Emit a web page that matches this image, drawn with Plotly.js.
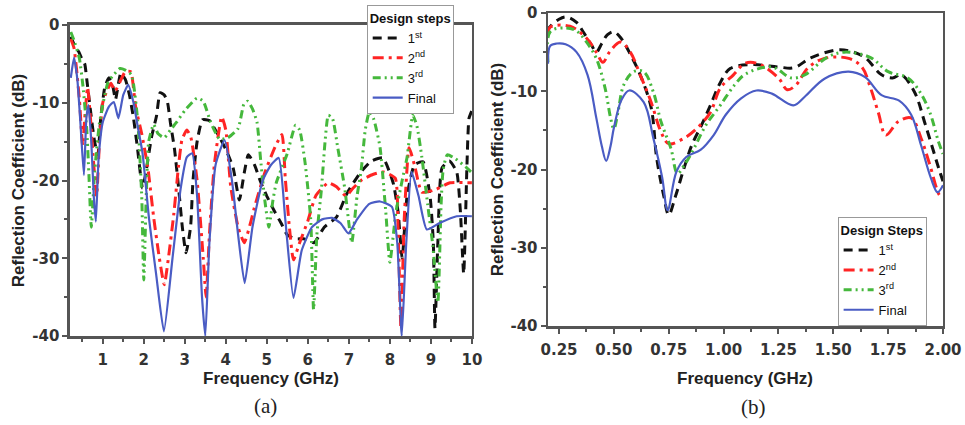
<!DOCTYPE html>
<html>
<head>
<meta charset="utf-8">
<script src="https://cdn.plot.ly/plotly-3.0.1.min.js"></script>
<style>
html,body{margin:0;padding:0;background:#fff;}
#chart{width:965px;height:425px;}
</style>
</head>
<body>
<div id="chart"></div>
<script>
// ---------- Panel (a): 0.2 - 10 GHz ----------
const a1stF = [0.22,0.3,0.42,0.5,0.56,0.61,0.7,0.8,0.88,0.95,1.05,1.15,1.25,1.31,1.44,1.55,1.65,1.75,1.85,1.97,2.05,2.19,2.31,2.4,2.5,2.58,2.65,2.75,2.85,2.94,3.03,3.14,3.2,3.3,3.43,3.6,3.8,4.0,4.18,4.33,4.45,4.55,4.7,4.85,5.0,5.17,5.35,5.5,5.7,5.9,6.15,6.4,6.7,6.96,7.28,7.55,7.83,8.08,8.2,8.3,8.42,8.6,8.81,8.98,9.06,9.1,9.17,9.27,9.45,9.63,9.72,9.8,9.88,9.93,10];
const a1stDB = [-1.5,-2.5,-3.5,-4.5,-5,-7,-11,-15,-16.7,-12,-8,-6.8,-8,-9.6,-6.2,-7,-9,-12,-16,-21,-19,-14.4,-11.7,-8.7,-9,-10,-12.6,-16,-21,-26,-29.3,-26,-20,-15,-12.2,-12.3,-14,-16,-18.4,-22.5,-19,-16.7,-18,-20.2,-22,-23.8,-25.5,-27,-27.5,-27.5,-28,-26,-24.7,-21.6,-19,-17.5,-17.1,-20.3,-24,-30,-22,-18,-17.6,-22,-28,-39,-28,-18.4,-17.5,-18.9,-24,-32,-18,-12,-11];

const a2ndF = [0.22,0.3,0.43,0.51,0.56,0.63,0.7,0.78,0.85,0.92,1.0,1.09,1.2,1.3,1.42,1.55,1.68,1.8,1.95,2.1,2.24,2.38,2.5,2.6,2.73,2.85,2.93,3.05,3.15,3.3,3.45,3.52,3.6,3.72,3.9,4.0,4.12,4.3,4.45,4.6,4.68,4.95,5.2,5.37,5.45,5.55,5.65,5.8,6.0,6.2,6.5,6.7,6.93,7.1,7.32,7.6,7.84,8.13,8.2,8.27,8.35,8.47,8.6,8.78,9.1,9.47,10];
const a2ndDB = [-1.8,-3,-9.6,-15.5,-12,-8,-12,-18,-22,-15,-10,-8.6,-7.5,-8.5,-7.3,-6,-6,-10.5,-14,-18.4,-24.7,-30,-33.4,-30,-24.4,-18,-14.8,-13.5,-14.5,-20,-30,-35,-27,-18,-11.8,-13.5,-20.8,-26,-28,-25.5,-23.8,-19,-15.7,-14.1,-19.7,-26,-30.2,-28,-25.2,-21.9,-20.3,-20.8,-22,-21,-19.9,-19.2,-18.9,-19.7,-26,-39,-25,-15.8,-18,-21.5,-21.2,-20.3,-20.3];

const a3rdF = [0.22,0.3,0.43,0.52,0.61,0.66,0.72,0.8,0.92,1.12,1.25,1.42,1.55,1.7,1.85,1.95,2.0,2.06,2.12,2.24,2.35,2.5,2.65,2.8,3.0,3.3,3.45,3.63,3.85,4.05,4.3,4.44,4.53,4.65,4.76,4.85,4.95,5.05,5.15,5.23,5.5,5.7,5.8,5.93,6.07,6.14,6.22,6.33,6.42,6.5,6.6,6.73,6.9,7.07,7.2,7.3,7.4,7.5,7.6,7.76,7.9,8.0,8.15,8.3,8.42,8.56,8.66,8.78,8.92,9.05,9.17,9.25,9.3,9.4,9.6,9.88,10];
const a3rdDB = [-0.9,-2,-4.3,-8,-13.5,-19,-26,-19,-12.6,-7.5,-6.5,-5.6,-5.8,-6.4,-12.2,-22,-32.8,-22,-15,-12.8,-14,-14.5,-13.5,-12.5,-11,-9.4,-9.8,-12.5,-14.7,-14.5,-13.3,-10.2,-9.8,-10.8,-12.5,-17.4,-22.5,-26,-22.5,-20.3,-16.5,-12.9,-13.5,-17.6,-25,-36.6,-27,-21.2,-15,-11.6,-12,-15.8,-21,-28,-22,-18.7,-13.5,-11.2,-12,-15.7,-24,-30.5,-24,-20,-17,-11.6,-13,-17,-23,-28.5,-35.7,-23,-18.6,-16.7,-17.2,-18.4,-19];

const aFinalF = [0.22,0.3,0.38,0.46,0.54,0.6,0.65,0.72,0.78,0.83,0.9,1.0,1.15,1.27,1.38,1.5,1.62,1.75,1.85,1.97,2.13,2.3,2.49,2.7,2.9,3.05,3.18,3.3,3.42,3.5,3.6,3.75,3.97,4.15,4.3,4.46,4.65,4.9,5.1,5.29,5.45,5.65,5.85,6.1,6.35,6.59,6.8,6.99,7.2,7.5,7.76,8.05,8.18,8.29,8.4,8.53,8.7,8.9,9.2,9.63,10];
const aFinalDB = [-6.8,-4.2,-7,-13,-19.3,-12,-10.3,-15,-22,-25.3,-17,-12.5,-10.5,-9.9,-12,-9,-7.7,-10,-13,-16.5,-25,-32,-39.4,-30,-21,-17,-16.5,-22,-35,-40,-28,-18,-14.8,-20,-27,-33.2,-26,-20,-18,-17.1,-25,-35.1,-29,-26,-25,-24.8,-25.5,-26.8,-25,-23,-22.7,-23.4,-28,-40,-28,-18.9,-22,-26.3,-25.5,-24.6,-24.6];

// ---------- Panel (b): 0.2 - 2 GHz ----------
const b1stF = [0.2,0.205,0.25,0.285,0.33,0.36,0.4,0.42,0.445,0.47,0.5,0.535,0.57,0.62,0.67,0.695,0.727,0.75,0.78,0.82,0.855,0.9,0.94,0.985,1.03,1.13,1.25,1.32,1.4,1.52,1.58,1.645,1.72,1.77,1.81,1.87,1.92,1.98,2.0];
const b1stDB = [-2.5,-1.9,-0.8,-0.5,-1.2,-2.4,-4.2,-5,-3.9,-2.8,-2.4,-3.3,-5,-7.9,-12.1,-18.5,-23.3,-25.8,-23.5,-19.8,-16.9,-14.3,-11.8,-8.9,-7.1,-6.6,-6.9,-7,-5.7,-4.7,-4.9,-5.7,-7.9,-8.3,-7.9,-10.1,-14.3,-19.8,-21.5];

const b2ndF = [0.2,0.21,0.3,0.375,0.42,0.45,0.48,0.53,0.575,0.62,0.67,0.715,0.75,0.82,0.88,0.94,0.985,1.045,1.1,1.16,1.25,1.29,1.33,1.385,1.46,1.57,1.63,1.67,1.705,1.74,1.795,1.855,1.9,1.94,1.985,2.0];
const b2ndDB = [-2.8,-1.8,-1.7,-3.2,-5,-6.3,-5,-3.7,-5,-7.9,-11.4,-15.2,-16.7,-16,-14.7,-12.7,-9.6,-7.9,-6.4,-6.5,-8.3,-9.8,-9.2,-7,-5.8,-5.8,-6.9,-9.6,-12.7,-15.6,-13.9,-13.4,-16,-19.4,-23.3,-23.5];

const b3rdF = [0.2,0.21,0.28,0.33,0.375,0.42,0.46,0.485,0.5,0.52,0.545,0.59,0.636,0.68,0.715,0.76,0.79,0.82,0.865,0.92,0.985,1.05,1.1,1.22,1.31,1.37,1.47,1.55,1.67,1.75,1.84,1.895,1.94,1.98,2.0];
const b3rdDB = [-6.3,-2.4,-1.9,-2.3,-3.7,-5.8,-9.6,-13.4,-14.8,-12.5,-9.2,-7.5,-7.5,-10.1,-13.9,-17.3,-20.5,-19.5,-17.3,-14.3,-11.8,-9.2,-7.8,-6.9,-8.3,-7.9,-5.7,-5,-5.7,-7.5,-8.3,-10.1,-12.7,-16.5,-18];

const bFinalF = [0.2,0.21,0.24,0.28,0.33,0.38,0.42,0.445,0.465,0.485,0.5,0.535,0.57,0.636,0.68,0.72,0.745,0.785,0.83,0.895,0.955,1.01,1.08,1.15,1.22,1.318,1.37,1.46,1.57,1.645,1.72,1.8,1.855,1.9,1.945,1.975,2.0];
const bFinalDB = [-6.5,-4.2,-3.9,-4,-5,-7.9,-13.4,-17,-18.9,-17,-14.7,-11.1,-9.9,-11.4,-16,-21,-25.2,-20.3,-18.4,-17.5,-15.6,-13,-10.9,-9.9,-10.3,-11.8,-10.7,-8.4,-7.5,-8.2,-10.5,-11.2,-13,-16.9,-21.1,-22.9,-22];

// ---------- Labels ----------
const seriesNames = ['1<sup>st</sup>','2<sup>nd</sup>','3<sup>rd</sup>','Final'];
const xTicksA = [1,2,3,4,5,6,7,8,9,10];
const xTickTextA = ['1','2','3','4','5','6','7','8','9','10'];
const xTicksB = [0.25,0.5,0.75,1.0,1.25,1.5,1.75,2.0];
const xTickTextB = ['0.25','0.50','0.75','1.00','1.25','1.50','1.75','2.00'];
const yTicks = [-40,-30,-20,-10,0];
const yTickText = ['-40','-30','-20','-10','0'];
const xTitle = 'Frequency (GHz)';
const yTitle = 'Reflection Coefficient (dB)';

const colors = ['#111111','#ff2424','#45b83c','#4a5cc4'];
const dashes = ['9px,6px','11px,5px,3px,5px','8px,4px,2px,4px,2px,4px','solid'];
const widths = [3,3,3,2.2];

const panelA = [[a1stF,a1stDB],[a2ndF,a2ndDB],[a3rdF,a3rdDB],[aFinalF,aFinalDB]];
const panelB = [[b1stF,b1stDB],[b2ndF,b2ndDB],[b3rdF,b3rdDB],[bFinalF,bFinalDB]];

const traces = [];
panelA.forEach((s,i)=>{
  traces.push({x:s[0],y:s[1],type:'scatter',mode:'lines',name:seriesNames[i],
    xaxis:'x',yaxis:'y',legend:'legend',
    line:{color:colors[i],width:widths[i],dash:dashes[i],shape:'spline',smoothing:0.5}});
});
panelB.forEach((s,i)=>{
  traces.push({x:s[0],y:s[1],type:'scatter',mode:'lines',name:seriesNames[i],
    xaxis:'x2',yaxis:'y2',legend:'legend2',
    line:{color:colors[i],width:widths[i],dash:dashes[i],shape:'spline',smoothing:1}});
});

const axCol = '#555';
const tickFont = {family:'DejaVu Sans', size:15, color:'#333', weight:'bold'};
const titleFont = {family:'Liberation Sans, Arial', size:17, color:'#222', weight:'bold'};
function xa(domain, range, tv, tt, minorD, anchor){
  return {domain:domain, range:range, anchor:anchor, tickmode:'array', tickvals:tv, ticktext:tt,
    ticks:'outside', ticklen:5, tickwidth:2, tickcolor:axCol, linecolor:axCol, linewidth:2.5,
    mirror:true, showgrid:false, zeroline:false, tickfont:tickFont, ticklabelstandoff:3,
    minor:{ticks:'outside', ticklen:3, tickwidth:2, tickcolor:axCol, dtick:minorD, tick0:0, showgrid:false}};
}
function ya(domain, anchor){
  return {domain:domain, range:[-40,0], anchor:anchor, tickmode:'array', tickvals:yTicks, ticktext:yTickText,
    ticks:'outside', ticklen:5, tickwidth:2, tickcolor:axCol, linecolor:axCol, linewidth:2.5,
    mirror:true, showgrid:false, zeroline:false, tickfont:tickFont,
    minor:{ticks:'outside', ticklen:3, tickwidth:2, tickcolor:axCol, dtick:5, tick0:0, showgrid:false},
    title:{text:yTitle, font:titleFont}};
}

const legendBase = {xanchor:'left', yanchor:'top', bgcolor:'#fff', bordercolor:'#999', borderwidth:1,
  font:{family:'Liberation Sans, Arial', size:13, color:'#111'}, traceorder:'normal',
  tracegroupgap:0, itemwidth:30};

const layout = {
  width:965, height:425, margin:{l:0,r:0,t:0,b:0}, paper_bgcolor:'#fff', plot_bgcolor:'#fff',
  showlegend:true,
  xaxis: xa([0.0725,0.489],[0.2,10],xTicksA,xTickTextA,0.5,'y'),
  yaxis: ya([0.2094,0.9412],'x'),
  xaxis2: xa([0.5679,0.9772],[0.2,2.0],xTicksB,xTickTextB,0.125,'y2'),
  yaxis2: ya([0.2329,0.9694],'x2'),
  legend: Object.assign({}, legendBase, {x:0.380, y:0.988,
    title:{text:'Design steps', font:{family:'Liberation Sans, Arial', size:13, color:'#111', weight:'bold'}}}),
  legend2: Object.assign({}, legendBase, {x:0.868, y:0.489,
    title:{text:'Design Steps', font:{family:'Liberation Sans, Arial', size:13, color:'#111', weight:'bold'}}}),
  annotations:[
    {text:xTitle, xref:'paper', yref:'paper', x:271/965, y:1-378/425, showarrow:false,
     xanchor:'center', yanchor:'middle', font:titleFont},
    {text:xTitle, xref:'paper', yref:'paper', x:745/965, y:1-378/425, showarrow:false,
     xanchor:'center', yanchor:'middle', font:titleFont},
    {text:'(a)', xref:'paper', yref:'paper', x:265/965, y:1-406/425, showarrow:false,
     xanchor:'center', yanchor:'middle',
     font:{family:'Liberation Serif, Times New Roman', size:21, color:'#222'}},
    {text:'(b)', xref:'paper', yref:'paper', x:753/965, y:1-407/425, showarrow:false,
     xanchor:'center', yanchor:'middle',
     font:{family:'Liberation Serif, Times New Roman', size:21, color:'#222'}}
  ]
};

Plotly.newPlot('chart', traces, layout, {staticPlot:true, displayModeBar:false});
</script>
</body>
</html>
